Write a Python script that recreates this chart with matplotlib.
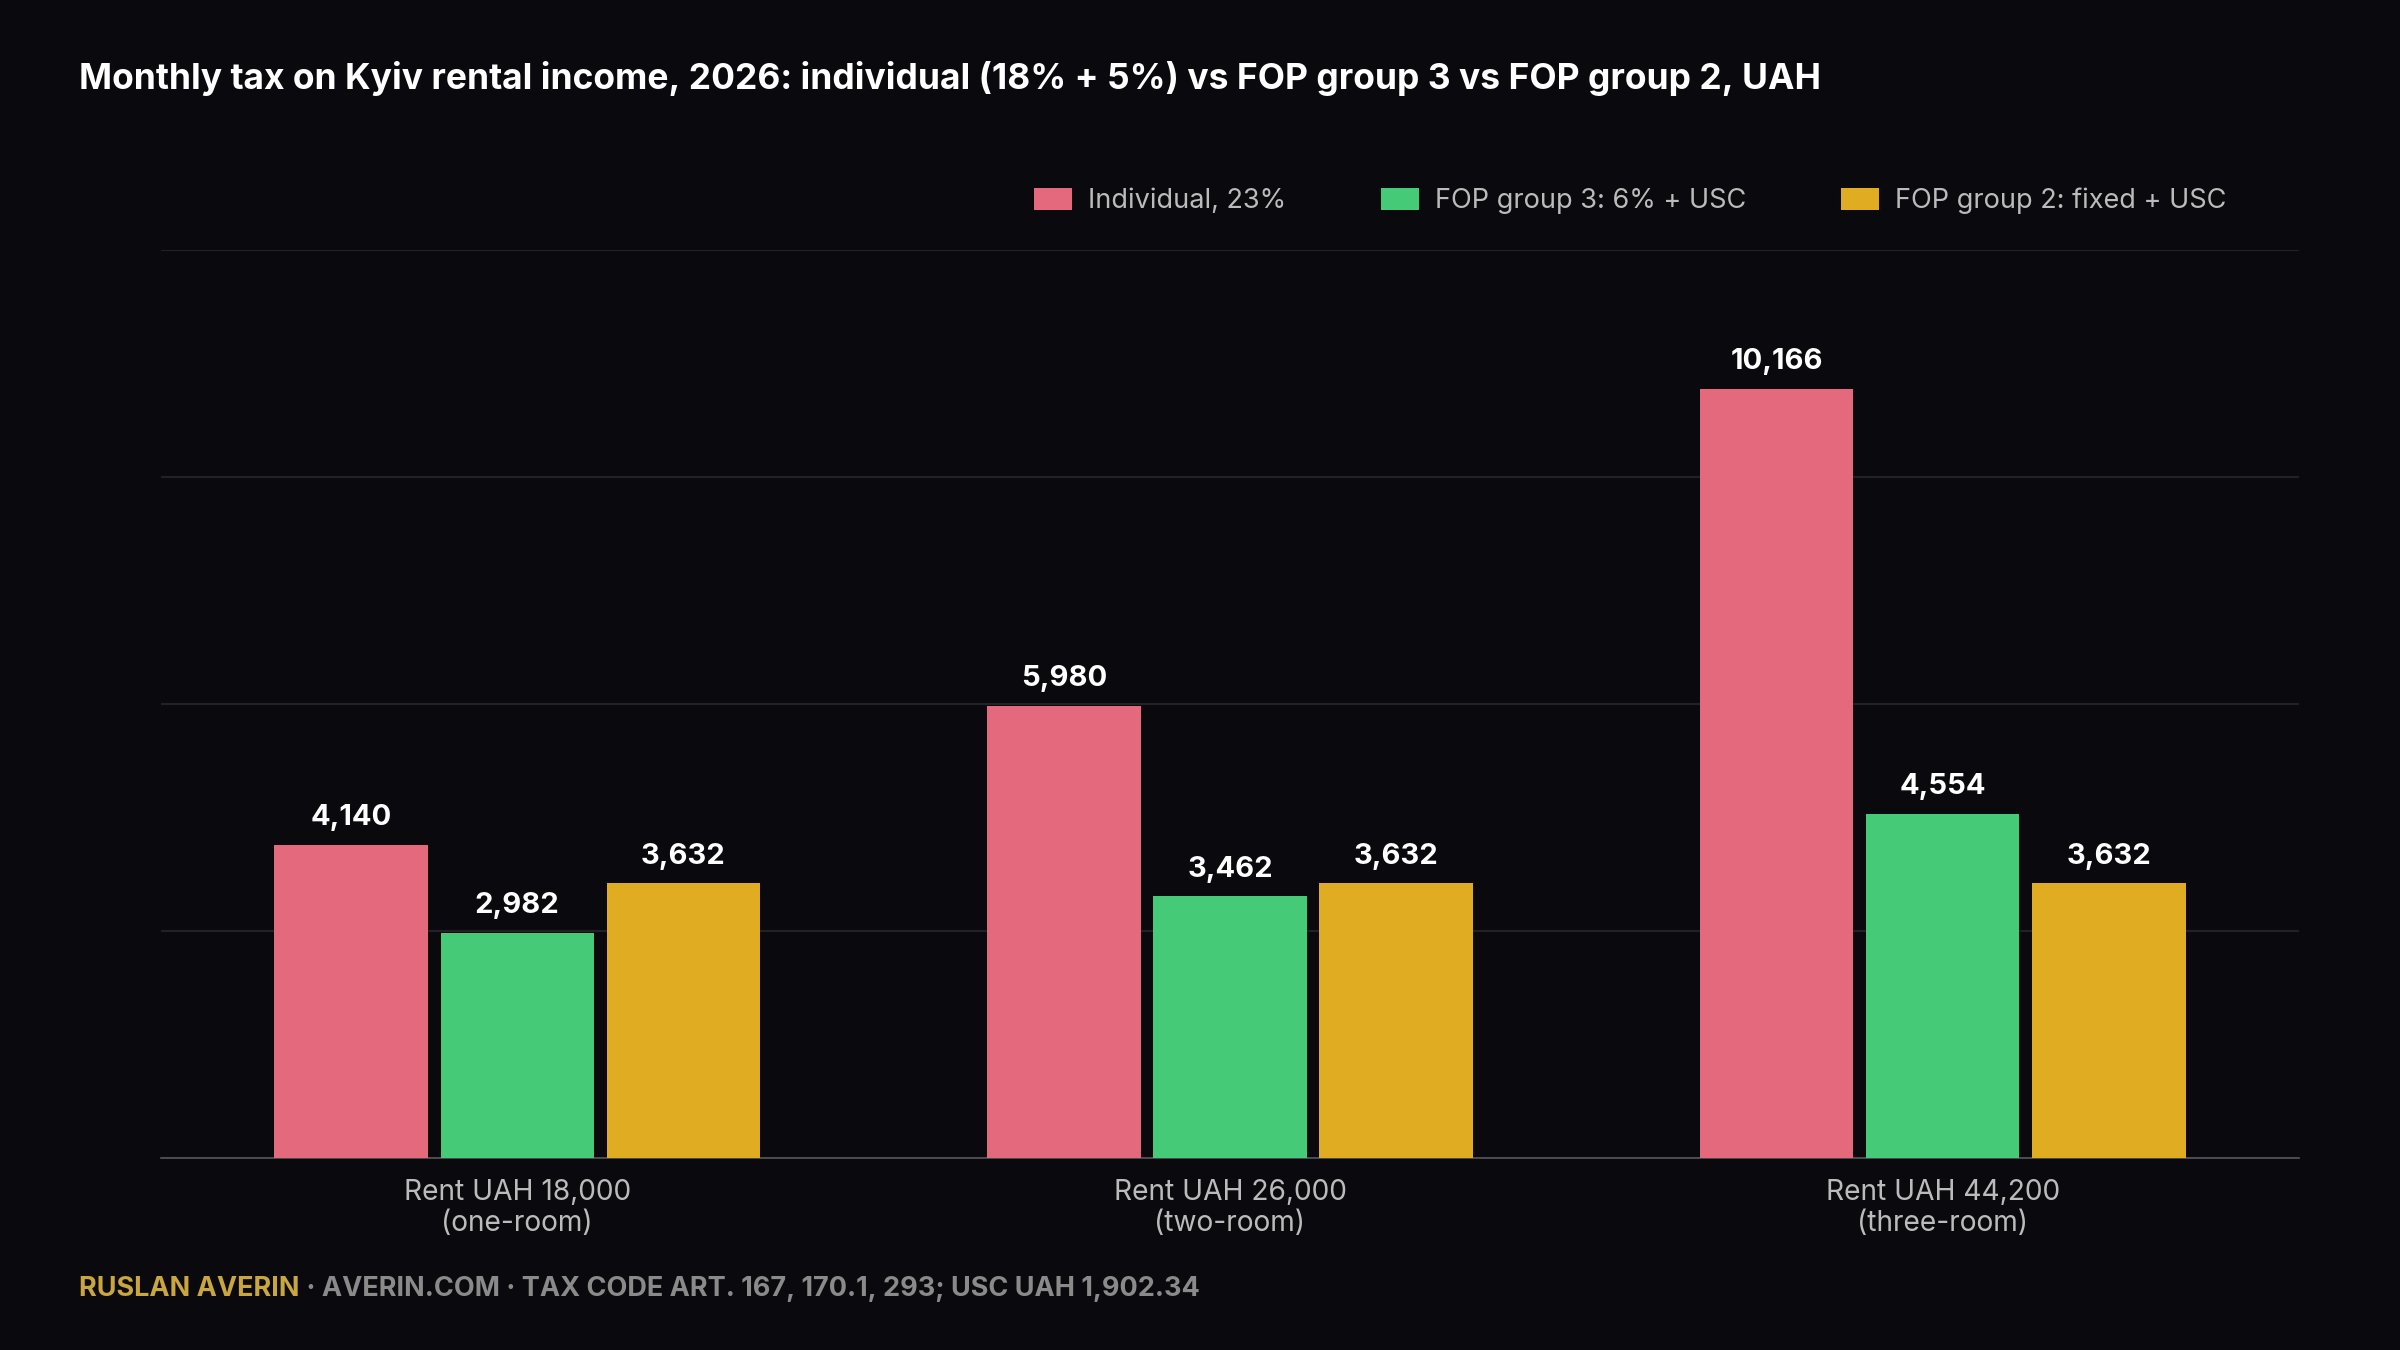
import matplotlib.pyplot as plt
import numpy as np

categories = ["Rent UAH 18,000\n(one-room)", "Rent UAH 26,000\n(two-room)", "Rent UAH 44,200\n(three-room)"]
series_names = ["Individual, 23%", "FOP group 3: 6% + USC", "FOP group 2: fixed + USC"]
individual = [4140, 5980, 10166]
fop3 = [2982, 3462, 4554]
fop2 = [3632, 3632, 3632]

colors = ["#E5697C", "#45CB77", "#E0AC22"]
bg = "#0A0A0E"

plt.rcParams['font.family'] = ['Inter', 'DejaVu Sans']

fig = plt.figure(figsize=(16, 9), dpi=150, facecolor=bg)
ax = fig.add_axes([0.067, 0.142, 0.891, 0.673], facecolor=bg)

x = np.arange(len(categories))
width = 0.215
offset = 0.233
for i, (vals, name, c) in enumerate(zip([individual, fop3, fop2], series_names, colors)):
    bars = ax.bar(x + (i - 1) * offset, vals, width, color=c, label=name, zorder=3)
    for b, v in zip(bars, vals):
        ax.text(b.get_x() + b.get_width() / 2, v + 180, f"{v:,}", ha='center', va='bottom',
                color='white', fontsize=14, fontweight='bold')

ax.set_xlim(-0.5, 2.5)
ax.set_ylim(0, 12000)
ax.set_yticks(np.arange(0, 12001, 3000))
ax.set_yticklabels([])
ax.tick_params(axis='y', length=0)
ax.tick_params(axis='x', length=0, pad=10, colors='#BBBBBB', labelsize=13.5)
ax.set_xticks(x)
ax.set_xticklabels(categories)
ax.grid(axis='y', color='#222226', linewidth=1, zorder=0)
for s in ['top', 'right', 'left']:
    ax.spines[s].set_visible(False)
ax.spines['bottom'].set_color('#55555A')

fig.text(0.033, 0.942, "Monthly tax on Kyiv rental income, 2026: individual (18% + 5%) vs FOP group 3 vs FOP group 2, UAH",
         color='white', fontsize=17, fontweight='bold', va='center')

leg = fig.legend(loc='center right', bbox_to_anchor=(0.938, 0.851), ncol=3, frameon=False,
                 fontsize=13, labelcolor='#BBBBBB', handlelength=1.4, handleheight=0.9,
                 columnspacing=3.5, handletextpad=0.6)

t1 = fig.text(0.033, 0.045, "RUSLAN AVERIN", color='#C9A640', fontsize=13, fontweight='bold', va='center')
fig.canvas.draw()
bb = t1.get_window_extent().transformed(fig.transFigure.inverted())
fig.text(bb.x1, 0.045, " · AVERIN.COM · TAX CODE ART. 167, 170.1, 293; USC UAH 1,902.34",
         color='#8A8A8A', fontsize=13, fontweight='bold', va='center')

fig.savefig("out.png", dpi=150, facecolor=bg)
